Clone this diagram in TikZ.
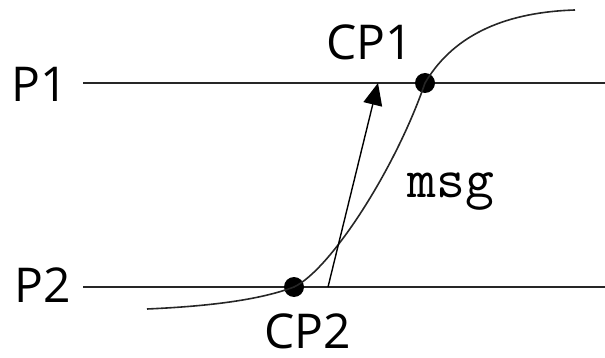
\documentclass[tikz,border=0pt]{standalone}
\usepackage{fontspec}
\setmainfont{Open Sans}
\usetikzlibrary{arrows.meta, positioning, calc}
\tikzset{
  procline/.style={line width=1.6pt, black!85},
  cpdot/.style={circle, fill=black, inner sep=0pt, minimum size=20pt},
  lbl/.style={inner sep=0pt, anchor=base, font=\fontsize{48}{50}\selectfont},
  msgarrow/.style={line width=1.4pt, -{Triangle[length=22pt, width=19pt]}},
}

\begin{document}
\begin{tikzpicture}[x=1pt, y=-1pt]
    \useasboundingbox (0,0) rectangle (605,358);

    % process names and their time lines
    \node[lbl] (p1) at (40,102) {P1};
    \node[lbl] (p2) at (43,302) {P2};
    \coordinate (p1start) at (83,83);
    \coordinate (p2start) at (83,287);
    \coordinate (p1end) at (605,83);
    \coordinate (p2end) at (605,287);
    \draw[procline] (p1start) -- (p1end);
    \draw[procline] (p2start) -- (p2end);

    % checkpoints
    \node[cpdot] (cp1) at (425,83) {};
    \node[cpdot] (cp2) at (294,287) {};
    \node[lbl] (cp1lbl) at (370,60) {CP1};
    \node[lbl] (cp2lbl) at (308,348) {CP2};

    % recovery line through both checkpoints
    \coordinate (cstart) at (147,309);
    \coordinate (cend) at (575,10);
    \draw[procline] (cstart) .. controls (215,306) and (262,299) .. (cp2.center)
      .. controls (330,270) and (395,170) .. (cp1.center)
      .. controls (455,32) and (510,12) .. (cend);

    % message from P2 to P1
    \coordinate (msgsend) at (328,287);
    \coordinate (msgrecv) at (378,83);
    \draw[msgarrow] (msgsend) -- (msgrecv);
    \node[inner sep=0pt, anchor=base, font=\ttfamily\fontsize{56}{58}\selectfont] (msg) at (451,198) {msg};
\end{tikzpicture}
\end{document}
